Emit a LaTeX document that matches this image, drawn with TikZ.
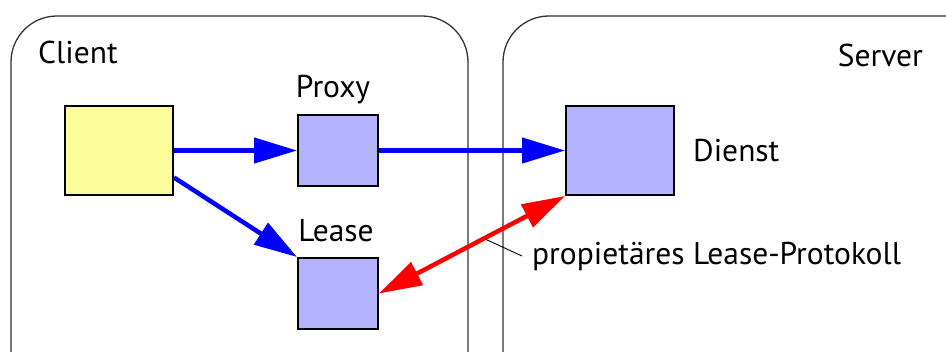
\documentclass[tikz,border=0pt]{standalone}
\usepackage{fontspec}
\setmainfont{PT Sans}
\usetikzlibrary{arrows.meta}
\definecolor{boxyellow}{HTML}{FDFD99}
\definecolor{boxblue}{HTML}{B3B3FF}
\definecolor{frame}{HTML}{333333}
\begin{document}
\begin{tikzpicture}[x=1pt,y=-1pt,
  container/.style={draw=frame,line width=1.3pt,rounded corners=46pt},
  sq/.style={draw=black,line width=2pt,inner sep=0pt},
  lbl/.style={font=\fontsize{31.5}{33}\selectfont,inner sep=0pt},
  bluearrow/.style={draw=blue,line width=4.5pt,-{Triangle[length=43pt,width=25pt]}},
  redarrow/.style={draw=red,line width=4.5pt,{Triangle[length=43pt,width=25pt]}-{Triangle[length=43pt,width=25pt]}},
  leader/.style={draw=black,line width=0.9pt}]
\useasboundingbox (0,0) rectangle (946,352);
\clip (0,0) rectangle (946,352);
\draw[container] (11,16) rectangle (468,420);
\draw[container] (503,16) rectangle (1000,420);
\node[sq,fill=boxyellow,minimum width=108pt,minimum height=89pt] (client) at (119,150.5) {};
\node[sq,fill=boxblue,minimum width=80pt,minimum height=71pt] (proxy) at (338,150.5) {};
\node[sq,fill=boxblue,minimum width=80pt,minimum height=71pt] (lease) at (338,293.5) {};
\node[sq,fill=boxblue,minimum width=108pt,minimum height=89pt] (dienst) at (620,150.5) {};
\node[lbl,anchor=west] (clientlbl) at (38,52) {Client};
\node[lbl,anchor=east] (serverlbl) at (923,55) {Server};
\node[lbl] (proxylbl) at (333,90) {Proxy};
\node[lbl] (leaselbl) at (336,231) {Lease};
\node[lbl,anchor=west] (dienstlbl) at (693,151) {Dienst};
\node[lbl,anchor=west] (protolbl) at (532,257) {propietäres Lease-Protokoll};
\draw[bluearrow] (client.east) -- (proxy.west);
\draw[bluearrow] ([yshift=-27pt]client.east) -- (lease.north west);
\draw[bluearrow] (proxy.east) -- (dienst.west);
\draw[redarrow] (lease.east) -- (dienst.south west);
\coordinate (leadA) at (485,239);
\draw[leader] (leadA) -- ([xshift=-10pt,yshift=1pt]protolbl.west);
\end{tikzpicture}
\end{document}
